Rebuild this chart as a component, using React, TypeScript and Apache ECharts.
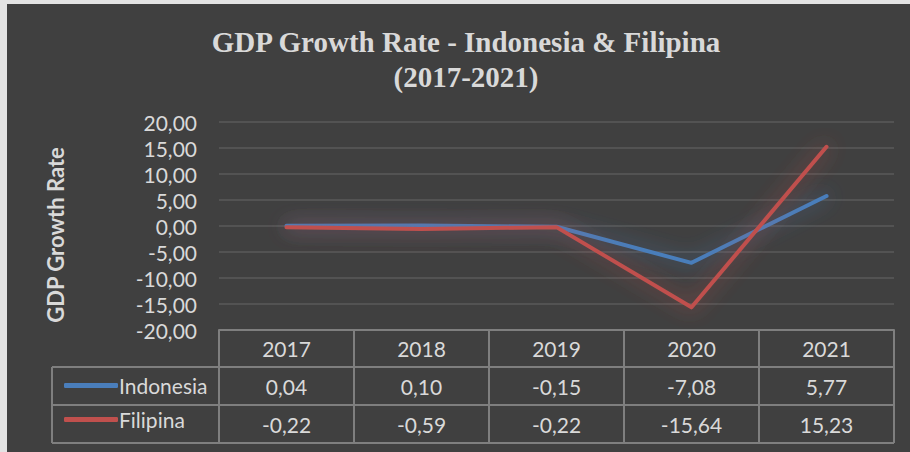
import React, { useEffect, useRef } from "react";
import * as echarts from "echarts";

const years = ["2017", "2018", "2019", "2020", "2021"];
const indonesia = [0.04, 0.1, -0.15, -7.08, 5.77];
const filipina = [-0.22, -0.59, -0.22, -15.64, 15.23];
const seriesNames = ["Indonesia", "Filipina"];
const titleLines = ["GDP Growth Rate - Indonesia & Filipina", "(2017-2021)"];
const yAxisTitle = "GDP Growth Rate";

const fmt = (v: number) => v.toFixed(2).replace(".", ",");

const BG = "#404040";
const TXT = "#d9d9d9";
const BORDER = "#7f7f7f";
const BLUE = "#4a7ebb";
const RED = "#c0504d";
const FONT = "Lato";

export default function App() {
  const ref = useRef<HTMLDivElement>(null);
  useEffect(() => {
    document.body.style.margin = "0";
    const chart = echarts.init(ref.current!, null, { renderer: "svg" });
    const gridLeft = 219;
    const gridRight = 894;
    const gridTop = 122;
    const gridBottom = 330;
    const rowH = 38;
    const tableLeft = 52;
    const lineStyle = { stroke: BORDER, lineWidth: 2 };
    chart.setOption({
      animation: false,
      backgroundColor: BG,
      textStyle: { fontFamily: FONT },
      grid: {
        left: gridLeft,
        right: 910 - gridRight,
        top: gridTop,
        bottom: 452 - gridBottom,
        containLabel: false,
      },
      legend: {
        orient: "vertical",
        left: 59,
        top: 370,
        itemGap: 13,
        itemWidth: 54,
        itemHeight: 5,
        icon: "roundRect",
        data: seriesNames,
        textStyle: { color: TXT, fontSize: 21, fontFamily: FONT, padding: [0, 0, 0, -4] },
      },
      xAxis: {
        type: "category",
        data: years,
        boundaryGap: true,
        axisLine: { show: true, onZero: false, lineStyle: { color: BORDER, width: 2 } },
        axisTick: {
          show: true,
          alignWithLabel: false,
          inside: false,
          length: 113,
          lineStyle: { color: BORDER, width: 2 },
        },
        axisLabel: {
          margin: -1,
          color: TXT,
          fontSize: 21,
          fontFamily: FONT,
          lineHeight: rowH,
          formatter: (value: string, idx: number) =>
            `${value}\n${fmt(indonesia[idx])}\n${fmt(filipina[idx])}`,
        },
        splitLine: { show: false },
      },
      yAxis: {
        type: "value",
        min: -20,
        max: 20,
        interval: 5,
        axisLine: { show: false },
        axisTick: { show: false },
        axisLabel: {
          margin: 22,
          color: TXT,
          fontSize: 21,
          fontFamily: FONT,
          formatter: (v: number) => fmt(v),
        },
        splitLine: { show: true, lineStyle: { color: "#5a5a5a", width: 1.5 } },
      },
      series: [
        {
          name: seriesNames[0],
          type: "line",
          data: indonesia,
          symbol: "none",
          color: BLUE,
          lineStyle: {
            width: 4,
            color: BLUE,
            cap: "round",
            join: "round",
            shadowBlur: 20,
            shadowColor: "rgba(74,126,187,0.75)",
          },
        },
        {
          name: seriesNames[1],
          type: "line",
          data: filipina,
          symbol: "none",
          color: RED,
          lineStyle: {
            width: 4,
            color: RED,
            cap: "round",
            join: "round",
            shadowBlur: 20,
            shadowColor: "rgba(192,80,77,0.8)",
          },
        },
      ],
      graphic: [
        { type: "rect", shape: { x: 0, y: 0, width: 7, height: 452 }, style: { fill: "#e3e3e3" }, silent: true },
        { type: "rect", shape: { x: 0, y: 0, width: 910, height: 4 }, style: { fill: "#e3e3e3" }, silent: true },
        {
          type: "text",
          x: 466,
          y: 42,
          style: {
            text: titleLines[0],
            fill: TXT,
            font: "bold 29px 'Liberation Serif'",
            align: "center",
            verticalAlign: "middle",
          },
        },
        {
          type: "text",
          x: 466,
          y: 77,
          style: {
            text: titleLines[1],
            fill: TXT,
            font: "bold 29px 'Liberation Serif'",
            align: "center",
            verticalAlign: "middle",
          },
        },
        {
          type: "text",
          x: 55,
          y: 235,
          rotation: Math.PI / 2,
          style: {
            text: yAxisTitle,
            fill: TXT,
            font: "bold 22px Lato",
            align: "center",
            verticalAlign: "middle",
          },
        },
        { type: "line", shape: { x1: tableLeft, y1: gridBottom + rowH - 1, x2: gridRight, y2: gridBottom + rowH - 1 }, style: lineStyle },
        { type: "line", shape: { x1: tableLeft, y1: gridBottom + 2 * rowH - 1, x2: gridRight, y2: gridBottom + 2 * rowH - 1 }, style: lineStyle },
        { type: "line", shape: { x1: tableLeft, y1: gridBottom + 3 * rowH - 1, x2: gridRight, y2: gridBottom + 3 * rowH - 1 }, style: lineStyle },
        { type: "line", shape: { x1: tableLeft, y1: gridBottom + rowH - 1, x2: tableLeft, y2: gridBottom + 3 * rowH - 1 }, style: lineStyle },
      ],
    });
    return () => chart.dispose();
  }, []);
  return <div ref={ref} style={{ width: 910, height: 452 }} />;
}
